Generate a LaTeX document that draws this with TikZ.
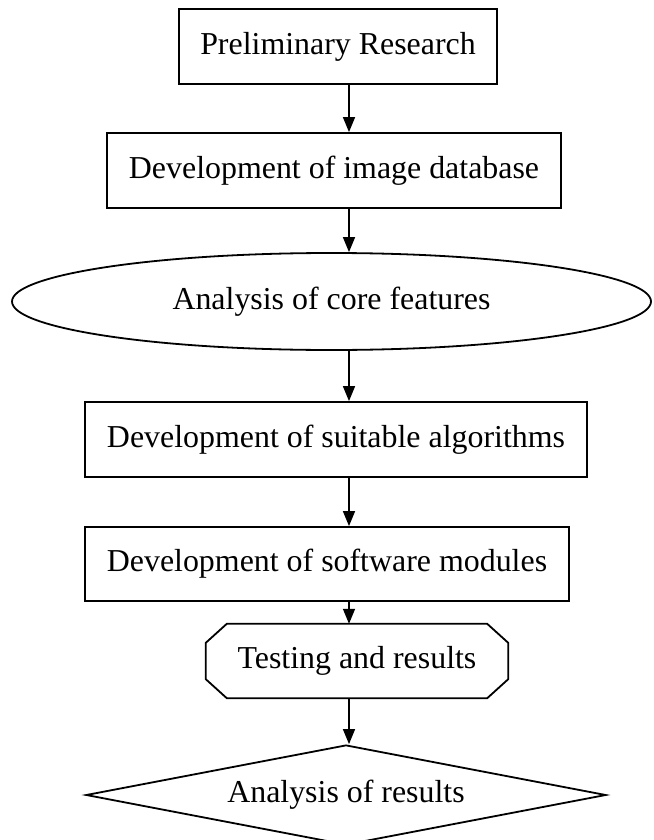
\documentclass[tikz,border=0pt]{standalone}
\usepackage{fontspec}
\setmainfont{Liberation Serif}
\usetikzlibrary{shapes.geometric,arrows.meta}
\begin{document}
\begin{tikzpicture}[x=1pt,y=-1pt,
  every node/.style={font=\fontsize{31.9}{38}\selectfont, inner sep=0pt},
  stepbox/.style={draw, rectangle, line width=1.8pt, minimum height=75pt},
  ovalbox/.style={draw, ellipse, line width=1.8pt},
  decbox/.style={draw, diamond, line width=1.8pt, aspect=5.2},
  octbox/.style={rectangle, draw=none},
  octline/.style={line width=1.8pt, line join=miter},
  flow/.style={line width=1.5pt, -{Triangle[length=15pt,width=12pt]}}]
\useasboundingbox (0,0) rectangle (653,840);
\fill[white] (0,0) rectangle (653,840);

\node[stepbox, minimum width=318pt] (b1) at (338,46.5) {Preliminary Research};
\node[stepbox, minimum width=454pt] (b2) at (334,170.5) {Development of image database};
\node[ovalbox, minimum width=639pt, minimum height=97pt] (ell) at (331.5,301.5) {Analysis of core features};
\node[stepbox, minimum width=502pt] (b3) at (336,439.5) {Development of suitable algorithms};
\node[stepbox, minimum width=484pt, minimum height=74pt] (b4) at (327,564) {Development of software modules};
\node[octbox, minimum width=302pt, minimum height=74pt] (oct) at (357,661) {Testing and results};
\draw[octline]
  ([xshift=21pt]oct.north west) -- ([xshift=-21pt]oct.north east)
  -- ([yshift=-19pt]oct.north east) -- ([yshift=19pt]oct.south east)
  -- ([xshift=-21pt]oct.south east) -- ([xshift=21pt]oct.south west)
  -- ([yshift=19pt]oct.south west) -- ([yshift=-19pt]oct.north west) -- cycle;
\node[decbox, minimum width=520pt, minimum height=100pt] (dia) at (346,795) {Analysis of results};

\coordinate (ax) at (349,0);
\draw[flow] (b1.south -| ax) -- (b2.north -| ax);
\draw[flow] (b2.south -| ax) -- (ell.north -| ax);
\draw[flow] (ell.south -| ax) -- (b3.north -| ax);
\draw[flow] (b3.south -| ax) -- (b4.north -| ax);
\draw[flow] (b4.south -| ax) -- (oct.north -| ax);
\draw[flow] (oct.south -| ax) -- (dia.north -| ax);
\end{tikzpicture}
\end{document}
